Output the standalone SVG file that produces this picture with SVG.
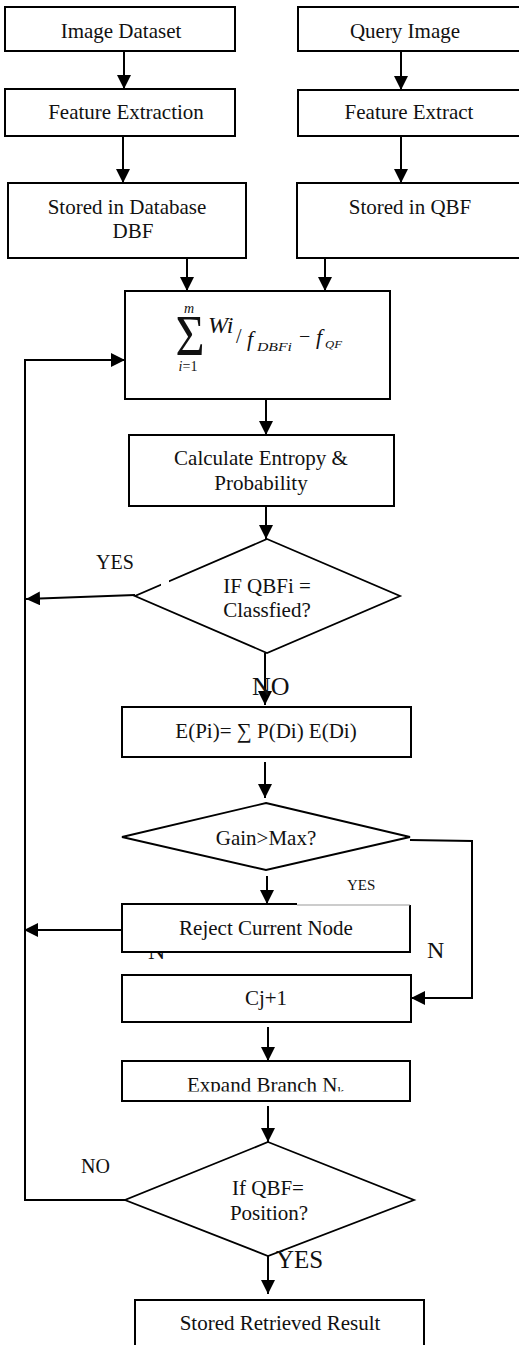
<svg xmlns="http://www.w3.org/2000/svg" width="519" height="1345" viewBox="0 0 519 1345">
<style>
.box{fill:#fff;stroke:#000;stroke-width:2}
.dia{fill:#fff;stroke:#000;stroke-width:1.8}
.t{font-family:"Liberation Serif","Times New Roman",serif;font-size:21px;fill:#111;text-anchor:middle}
.l{font-family:"Liberation Serif","Times New Roman",serif;fill:#111}
.m{font-family:"Liberation Serif","Times New Roman",serif;fill:#111;font-style:italic}
.c{fill:none;stroke:#000;stroke-width:2}
</style>
<defs>
<marker id="ah" markerUnits="userSpaceOnUse" markerWidth="14" markerHeight="14" refX="14" refY="7" orient="auto">
<path d="M0,0 L14,7 L0,14 z" fill="#000"/>
</marker>
<clipPath id="clipExp"><rect x="120" y="1060" width="300" height="31.5"/></clipPath>
</defs>

<g id="connectors">
<path class="c" d="M124,51 L124,89" marker-end="url(#ah)"/>
<path class="c" d="M401,51 L401,90" marker-end="url(#ah)"/>
<path class="c" d="M123,136 L123,183" marker-end="url(#ah)"/>
<path class="c" d="M401,136 L401,183" marker-end="url(#ah)"/>
<path class="c" d="M187,258 L187,291" marker-end="url(#ah)"/>
<path class="c" d="M325,258 L325,291" marker-end="url(#ah)"/>
<path class="c" d="M125,1200 L25,1200 L25,360 L125,360" marker-end="url(#ah)"/>
<path class="c" d="M266,399 L266,435" marker-end="url(#ah)"/>
<path class="c" d="M266,506 L266,539" marker-end="url(#ah)"/>
<path class="c" d="M135,595 L26,599" marker-end="url(#ah)"/>
<path class="c" d="M265,653 L265,705" marker-end="url(#ah)"/>
<path class="c" d="M265,762 L265,798" marker-end="url(#ah)"/>
<path class="c" d="M267,876 L267,904" marker-end="url(#ah)"/>
<path class="c" d="M122,930 L24,930" marker-end="url(#ah)"/>
<path class="c" d="M410,840 L472,841 L472,998 L411,998" marker-end="url(#ah)"/>
<path class="c" d="M268,1027 L268,1061" marker-end="url(#ah)"/>
<path class="c" d="M268,1106 L268,1142" marker-end="url(#ah)"/>
<path class="c" d="M268,1256 L268,1294" marker-end="url(#ah)"/>
</g>

<g id="labels-under">
<text class="l" x="148" y="959" font-size="24">N</text>
</g>

<g id="n1"><rect class="box" x="5" y="7" width="230" height="44"/><text class="t" x="121" y="38">Image Dataset</text></g>
<g id="n2"><rect class="box" x="298" y="7" width="230" height="44"/><text class="t" x="405" y="38">Query Image</text></g>
<g id="n3"><rect class="box" x="5" y="89" width="230" height="47"/><text class="t" x="126" y="119">Feature Extraction</text></g>
<g id="n4"><rect class="box" x="298" y="90" width="230" height="46"/><text class="t" x="409" y="119">Feature Extract</text></g>
<g id="n5"><rect class="box" x="8" y="183" width="238" height="75"/><text class="t" x="127" y="214">Stored in Database</text><text class="t" x="133" y="238">DBF</text></g>
<g id="n6"><rect class="box" x="297" y="183" width="230" height="75"/><text class="t" x="410" y="214">Stored in QBF</text></g>
<g id="n7"><rect class="box" x="125" y="291" width="265" height="108"/>
<text class="m" x="189" y="313" font-size="14" text-anchor="middle">m</text>
<text class="l" transform="translate(190,355) scale(1,1.15)" font-size="50" text-anchor="middle">Σ</text>
<text class="l" x="188" y="371" font-size="14" text-anchor="middle"><tspan font-style="italic">i</tspan>=1</text>
<text class="m" x="208" y="333" font-size="24">Wi</text>
<text class="l" x="236" y="343" font-size="20">/</text>
<text class="m" x="247" y="346" font-size="22">f</text>
<text class="m" x="257" y="351" font-size="12" textLength="35" lengthAdjust="spacingAndGlyphs">DBFi</text>
<text class="l" x="299" y="343" font-size="20">−</text>
<text class="m" x="316" y="344" font-size="22">f</text>
<text class="m" x="325" y="348" font-size="11" textLength="17" lengthAdjust="spacingAndGlyphs">QF</text>
</g>
<g id="n8"><rect class="box" x="129" y="435" width="265" height="71"/><text class="t" x="261" y="465">Calculate Entropy &amp;</text><text class="t" x="261" y="490">Probability</text></g>
<g id="n9"><polygon class="dia" points="267,539 400,596 267,653 135,596"/><rect x="161" y="578" width="8" height="10" fill="#fff"/><text class="t" x="267" y="593">IF QBFi =</text><text class="t" x="267" y="617">Classfied?</text></g>
<g id="n10"><rect class="box" x="122" y="707" width="289" height="50"/><text class="t" x="266" y="738">E(Pi)= ∑ P(Di) E(Di)</text></g>
<g id="n11"><polygon class="dia" points="266,803 410,837 266,870 122,837"/><text class="t" x="266" y="845">Gain&gt;Max?</text></g>
<g id="n12"><rect x="122" y="904" width="288" height="48" fill="#fff"/><path class="c" d="M297,904 L122,904 L122,952 L410,952 L410,905"/><path d="M297,905 L410,905" stroke="#999" stroke-width="1" fill="none"/><text class="t" x="266" y="935">Reject Current Node</text></g>
<g id="n13"><rect class="box" x="122" y="975" width="289" height="47"/><text class="t" x="266" y="1005">Cj+1</text></g>
<g id="n14"><rect class="box" x="122" y="1061" width="288" height="40"/><text class="l" x="187" y="1092" font-size="21" clip-path="url(#clipExp)">Expand Branch N<tspan font-size="13" dy="4">k</tspan></text></g>
<g id="n15"><polygon class="dia" points="268,1142 414,1200 268,1256 125,1200"/><text class="t" x="268" y="1195">If QBF=</text><text class="t" x="269" y="1220">Position?</text></g>
<g id="n16"><rect class="box" x="135" y="1300" width="289" height="60"/><text class="t" x="280" y="1330">Stored Retrieved Result</text></g>

<g id="labels">
<text class="l" x="96" y="569" font-size="20">YES</text>
<text class="l" x="252" y="695" font-size="26">NO</text>
<text class="l" x="347" y="890" font-size="15">YES</text>
<text class="l" x="427" y="958" font-size="24">N</text>
<text class="l" x="81" y="1173" font-size="20">NO</text>
<text class="l" x="276" y="1268" font-size="25">YES</text>
</g>
</svg>
